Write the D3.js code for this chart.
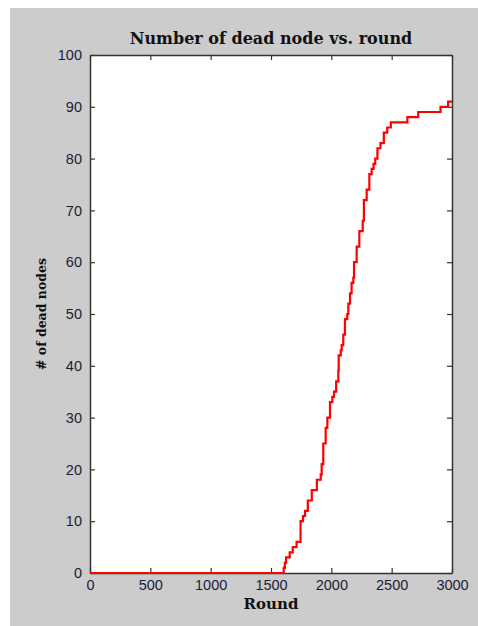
<!DOCTYPE html>
<html>
<head>
<meta charset="utf-8">
<script src="https://cdn.jsdelivr.net/npm/d3@7"></script>
<style>
  body { margin: 0; background: #fff; }
  svg { display: block; }
</style>
</head>
<body>
<svg id="chart" width="478" height="626"></svg>
<script>
// round at which the dead-node count changes, and the count from then on
const rounds = [0, 1605, 1615, 1625, 1655, 1680, 1712, 1745, 1765, 1782, 1805, 1838, 1880,
    1912, 1920, 1933, 1953, 1967, 1989, 2008, 2022, 2040, 2058, 2061, 2078, 2086, 2099,
    2113, 2132, 2141, 2155, 2168, 2182, 2188, 2210, 2232, 2260, 2270, 2293, 2315, 2334,
    2350, 2364, 2382, 2407, 2435, 2463, 2493, 2630, 2720, 2905, 2968, 3000];
const deadNodes = [0, 1, 2, 3, 4, 5, 6, 10, 11, 12, 14, 16, 18,
    19, 21, 25, 28, 30, 33, 34, 35, 37, 39, 42, 43, 44, 46,
    49, 50, 52, 54, 56, 57, 60, 63, 66, 68, 72, 74, 77, 78,
    79, 80, 82, 83, 85, 86, 87, 88, 89, 90, 91, 91];
const xTicks = [0, 500, 1000, 1500, 2000, 2500, 3000];
const yTicks = [0, 10, 20, 30, 40, 50, 60, 70, 80, 90, 100];

const svg = d3.select('#chart');

// grey figure background
svg.append('rect')
    .attr('x', 10).attr('y', 8)
    .attr('width', 468).attr('height', 618)
    .attr('fill', '#cccccc');

const plotLeft = 90, plotRight = 452, plotTop = 55, plotBottom = 573;

const x = d3.scaleLinear().domain([0, 3000]).range([plotLeft, plotRight]);
const y = d3.scaleLinear().domain([0, 100]).range([plotBottom, plotTop]);

// white plot area
svg.append('rect')
    .attr('x', plotLeft).attr('y', plotTop)
    .attr('width', plotRight - plotLeft).attr('height', plotBottom - plotTop)
    .attr('fill', '#fff');

const tickFont = '"Liberation Sans", Arial, sans-serif';
const fmt = d3.format('d');

// axes with inward ticks (matlab style box)
const bottomAxis = svg.append('g')
    .attr('transform', `translate(0,${plotBottom})`)
    .call(d3.axisBottom(x).tickValues(xTicks).tickFormat(fmt).tickSize(-5).tickPadding(7).tickSizeOuter(0));
const topAxis = svg.append('g')
    .attr('transform', `translate(0,${plotTop})`)
    .call(d3.axisTop(x).tickValues(xTicks).tickSize(-5).tickSizeOuter(0).tickFormat(''));
const leftAxis = svg.append('g')
    .attr('transform', `translate(${plotLeft},0)`)
    .call(d3.axisLeft(y).tickValues(yTicks).tickFormat(fmt).tickSize(-5).tickPadding(8).tickSizeOuter(0));
const rightAxis = svg.append('g')
    .attr('transform', `translate(${plotRight},0)`)
    .call(d3.axisRight(y).tickValues(yTicks).tickSize(-5).tickSizeOuter(0).tickFormat(''));

[bottomAxis, topAxis, leftAxis, rightAxis].forEach(g => {
    g.select('.domain').attr('stroke', '#333').attr('stroke-width', 1.5);
    g.selectAll('.tick line').attr('stroke', '#333').attr('stroke-width', 1.2);
    g.selectAll('.tick text')
        .attr('fill', '#1c1c3a')
        .style('font-family', tickFont)
        .style('font-size', '14.5px');
});

// the dead node curve
const line = d3.line()
    .x((d, i) => x(rounds[i]))
    .y(d => y(d))
    .curve(d3.curveStepAfter);

svg.append('path')
    .datum(deadNodes)
    .attr('d', line)
    .attr('fill', 'none')
    .attr('stroke', '#ff0000')
    .attr('stroke-width', 2.2);

// title and axis labels
const serif = '"DejaVu Serif", "Liberation Serif", serif';

svg.append('text')
    .attr('x', (plotLeft + plotRight) / 2)
    .attr('y', 44)
    .attr('text-anchor', 'middle')
    .style('font-family', serif)
    .style('font-weight', 'bold')
    .style('font-size', '16px')
    .attr('fill', '#111')
    .text('Number of dead node vs. round');

svg.append('text')
    .attr('x', (plotLeft + plotRight) / 2)
    .attr('y', 609)
    .attr('text-anchor', 'middle')
    .style('font-family', serif)
    .style('font-weight', 'bold')
    .style('font-size', '15px')
    .attr('fill', '#111')
    .text('Round');

svg.append('text')
    .attr('transform', `translate(46,${(plotTop + plotBottom) / 2}) rotate(-90)`)
    .attr('text-anchor', 'middle')
    .style('font-family', serif)
    .style('font-weight', 'bold')
    .style('font-size', '12.5px')
    .attr('fill', '#111')
    .text('# of dead nodes');
</script>
</body>
</html>
